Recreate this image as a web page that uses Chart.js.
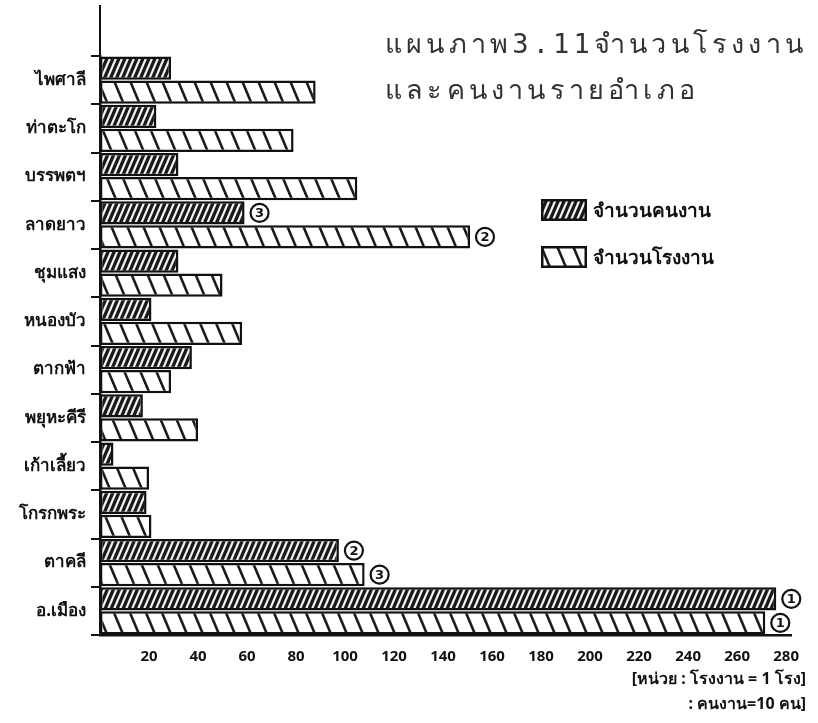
<!DOCTYPE html>
<html>
<head>
<meta charset="utf-8">
<script src="https://cdn.jsdelivr.net/npm/chart.js@4.4.1/dist/chart.umd.min.js"></script>
<style>
  html, body { margin: 0; padding: 0; background: #fff; }
  #wrap { position: relative; width: 818px; height: 723px; overflow: hidden; background: #fff; }
  #c { position: absolute; left: 0; top: 0; }
  .title { position: absolute; left: 385px; top: 21px; font-family: "DejaVu Sans Mono", "Liberation Mono", monospace;
           font-size: 27px; line-height: 46px; color: #333; letter-spacing: 4.2px; white-space: nowrap; }
  .legend { position: absolute; left: 541px; top: 199px; }
  .li { display: flex; align-items: center; height: 22px; margin-bottom: 25px; }
  .li canvas { display: block; }
  .li span { margin-left: 6px; font-family: "Noto Sans", "DejaVu Sans", sans-serif; font-size: 19px; font-weight: bold; color: #111; white-space: nowrap; }
  .note { position: absolute; right: 12px; top: 666px; font-family: "Noto Sans", "DejaVu Sans", sans-serif; text-align: right;
          font-size: 16px; font-weight: bold; color: #111; line-height: 25px; white-space: nowrap; }
</style>
</head>
<body>
<div id="wrap">
  <canvas id="c" width="818" height="723"></canvas>
  <div class="title"><div>แผนภาพ3.11จำนวนโรงงาน</div><div>และคนงานรายอำเภอ</div></div>
  <div class="legend" id="legend"></div>
  <div class="note"><div>[หน่วย : โรงงาน = 1 โรง]</div><div>: คนงาน=10 คน]</div></div>
</div>
<script>
// ---- data ----
const categories = ['ไพศาลี','ท่าตะโก','บรรพตฯ','ลาดยาว','ชุมแสง','หนองบัว','ตากฟ้า','พยุหะคีรี','เก้าเลี้ยว','โกรกพระ','ตาคลี','อ.เมือง'];
const workers   = [29, 23, 32, 59, 32, 21, 37.5, 17.5, 5.5, 19, 97.5, 276];
const factories = [88, 79, 105, 151, 50, 58, 29, 40, 20, 21, 108, 271.5];
const workerRanks  = [null, null, null, 3, null, null, null, null, null, null, 2, 1];
const factoryRanks = [null, null, null, 2, null, null, null, null, null, null, 3, 1];
const seriesNames = ['จำนวนคนงาน', 'จำนวนโรงงาน'];
const xMax = 282;
const xStep = 20;

// ---- hatch patterns ----
function makePattern(ctx, dir, period, lw, bg, fg) {
  const H = Math.round(period / 0.42);
  const c = document.createElement('canvas');
  c.width = period; c.height = H;
  const g = c.getContext('2d');
  g.fillStyle = bg; g.fillRect(0, 0, period, H);
  g.strokeStyle = fg; g.lineWidth = lw; g.lineCap = 'square';
  for (let k = -1; k <= 1; k++) {
    g.beginPath();
    if (dir === 'back') { g.moveTo(k * period, 0); g.lineTo(k * period + period, H); }
    else { g.moveTo(k * period + period, 0); g.lineTo(k * period, H); }
    g.stroke();
  }
  return ctx.createPattern(c, 'repeat');
}
const styles = [
  { dir: 'fwd', period: 6, lw: 3.3, bg: '#f4f4f4', fg: '#1a1a1a' },
  { dir: 'back', period: 16, lw: 2.6, bg: '#fff', fg: '#1a1a1a' }
];

const canvas = document.getElementById('c');
const ctx = canvas.getContext('2d');
const rankSets = [workerRanks, factoryRanks];

const decoPlugin = {
  id: 'deco',
  afterDatasetsDraw(chart) {
    const c = chart.ctx;
    c.save();
    chart.data.datasets.forEach((ds, di) => {
      const meta = chart.getDatasetMeta(di);
      const ranks = rankSets[di];
      meta.data.forEach((bar, i) => {
        const r = ranks[i];
        if (!r) return;
        const cx = bar.x + 15, cy = bar.y;
        c.beginPath();
        c.arc(cx, cy, 9, 0, Math.PI * 2);
        c.lineWidth = 2.2; c.strokeStyle = '#111'; c.stroke();
        c.fillStyle = '#111';
        c.font = 'bold 13px "DejaVu Sans", sans-serif';
        c.textAlign = 'center'; c.textBaseline = 'middle';
        c.fillText(String(r), cx, cy + 1);
      });
    });
    c.restore();
  },
  afterDraw(chart) {
    const c = chart.ctx, a = chart.chartArea;
    c.save();
    c.strokeStyle = '#111'; c.lineWidth = 2;
    c.beginPath(); c.moveTo(a.left, 5); c.lineTo(a.left, a.top); c.stroke();
    c.restore();
  }
};

const chart = new Chart(ctx, {
  type: 'bar',
  data: {
    labels: categories,
    datasets: [
      { label: seriesNames[0], data: workers, backgroundColor: makePattern(ctx, styles[0].dir, styles[0].period, styles[0].lw, styles[0].bg, styles[0].fg),
        borderColor: '#111', borderWidth: 2.5, borderSkipped: false },
      { label: seriesNames[1], data: factories, backgroundColor: makePattern(ctx, styles[1].dir, styles[1].period, styles[1].lw, styles[1].bg, styles[1].fg),
        borderColor: '#111', borderWidth: 2.5, borderSkipped: false }
    ]
  },
  options: {
    indexAxis: 'y',
    responsive: false,
    animation: false,
    barPercentage: 0.96,
    categoryPercentage: 1.0,
    layout: { padding: { top: 56, right: 27, left: 0, bottom: 0 } },
    plugins: { legend: { display: false }, tooltip: { enabled: false }, title: { display: false } },
    scales: {
      x: {
        type: 'linear', min: 0, max: xMax, position: 'bottom',
        grid: { display: false },
        border: { display: true, color: '#111', width: 2.5 },
        ticks: { stepSize: xStep, includeBounds: false, color: '#111', padding: 5,
                 font: { family: '"Noto Sans", "DejaVu Sans", sans-serif', size: 15, weight: 'bold' },
                 callback: v => (v === 0 ? '' : v), maxRotation: 0, autoSkip: false },
        afterFit: s => { s.height = 88; }
      },
      y: {
        type: 'category', offset: true,
        grid: { display: true, drawOnChartArea: false, drawTicks: true, tickLength: 9, color: '#111', lineWidth: 2, offset: true },
        border: { display: true, color: '#111', width: 2.5 },
        ticks: { color: '#111', padding: 5, font: { family: '"Noto Sans", "DejaVu Sans", sans-serif', size: 17, weight: 'bold' } },
        afterFit: s => { s.width = 100; }
      }
    }
  },
  plugins: [decoPlugin]
});

// HTML legend from chart datasets
const legend = document.getElementById('legend');
chart.data.datasets.forEach((ds, i) => {
  const row = document.createElement('div'); row.className = 'li';
  const sw = document.createElement('canvas'); sw.width = 46; sw.height = 22;
  const g = sw.getContext('2d');
  const st = styles[i];
  g.fillStyle = makePattern(g, st.dir, st.period, st.lw, st.bg, st.fg);
  g.fillRect(0, 0, 46, 22);
  g.strokeStyle = '#111'; g.lineWidth = 2.5; g.strokeRect(1.25, 1.25, 43.5, 19.5);
  const sp = document.createElement('span'); sp.textContent = ds.label;
  row.appendChild(sw); row.appendChild(sp); legend.appendChild(row);
});
</script>
</body>
</html>
